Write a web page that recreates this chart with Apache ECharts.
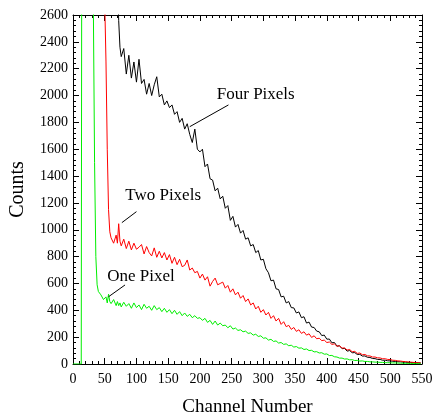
<!DOCTYPE html>
<html>
<head>
<meta charset="utf-8">
<script src="https://cdn.jsdelivr.net/npm/echarts@6/dist/echarts.min.js"></script>
<style>
html,body{margin:0;padding:0;background:#fff;}
#chart{width:435px;height:416px;}
</style>
</head>
<body>
<div id="chart"></div>
<script>
// Channel numbers (shared x values)
var channels = [
  0, 13, 14, 20, 26, 32, 34, 36, 38, 40,
  44, 48, 50, 52, 54, 56, 58, 60, 64, 68,
  70, 72, 74, 76, 80, 84, 88, 92, 96, 100,
  104, 108, 112, 116, 120, 124, 128, 132, 136, 140,
  144, 148, 152, 156, 160, 164, 168, 172, 176, 180,
  184, 188, 192, 196, 200, 204, 208, 212, 216, 220,
  224, 228, 232, 236, 240, 244, 248, 252, 256, 260,
  264, 268, 272, 276, 280, 284, 288, 292, 296, 300,
  304, 308, 312, 316, 320, 324, 328, 332, 336, 340,
  344, 348, 352, 356, 360, 364, 368, 372, 376, 380,
  384, 388, 392, 396, 400, 404, 408, 412, 416, 420,
  424, 428, 432, 436, 440, 444, 448, 452, 456, 460,
  464, 468, 472, 476, 480, 484, 488, 492, 496, 500,
  504, 508, 512, 516, 520, 524, 528, 532, 536, 540,
  544, 548
];

// Four Pixels (black)
var fourPixels = [
  null, null, 4000, 4000, 4000, 4000, 4000, 4000, 4000, 4000,
  4000, 4000, 4000, 4000, 4000, 4000, 4000, 4000, 4000, 4000,
  2900, 2560, 2360, 2290, 2350, 2160, 2300, 2130, 2250, 2100,
  2270, 2090, 2120, 2010, 2090, 2000, 2080, 2140, 1990, 2010,
  1930, 1960, 1910, 1930, 1860, 1880, 1800, 1830, 1750, 1790,
  1710, 1650, 1750, 1600, 1580, 1600, 1470, 1490, 1380, 1370,
  1290, 1310, 1230, 1250, 1160, 1180, 1070, 1100, 1020, 1040,
  975, 995, 930, 940, 880, 890, 830, 845, 775, 780,
  710, 680, 620, 625, 560, 555, 500, 505, 455, 465,
  420, 418, 380, 388, 345, 352, 305, 312, 275, 272,
  245, 240, 212, 215, 185, 186, 158, 160, 133, 136,
  114, 116, 96, 100, 84, 85, 71, 72, 59, 60,
  50, 49, 41, 40, 34, 34, 28, 28, 24, 23,
  20, 19, 17, 16, 14, 13, 12, 11, 10, 10,
  9, 8
];

// Two Pixels (red)
var twoPixels = [
  null, null, 4000, 4000, 4000, 4000, 4000, 4000, 4000, 4000,
  4000, 4000, 2700, 2250, 1600, 1150, 985, 940, 900, 960,
  900, 1045, 915, 880, 930, 860, 915, 850, 900, 855,
  870, 890, 820, 875, 830, 805, 865, 795, 840, 790,
  830, 775, 815, 750, 795, 740, 780, 725, 735, 775,
  700, 715, 680, 690, 640, 670, 625, 650, 580, 615,
  640, 590, 600, 610, 565, 585, 535, 560, 515, 535,
  490, 510, 465, 485, 440, 455, 410, 430, 385, 405,
  365, 385, 340, 360, 320, 340, 295, 315, 278, 288,
  258, 272, 243, 255, 228, 240, 215, 225, 198, 210,
  188, 192, 174, 178, 160, 164, 146, 150, 132, 136,
  118, 120, 104, 108, 91, 94, 79, 82, 69, 71,
  61, 60, 52, 52, 46, 45, 39, 39, 34, 33,
  28, 27, 23, 22, 19, 18, 15, 14, 12, 11,
  9, 8
];

// One Pixel (green)
var onePixel = [
  0, 0, 4000, 4000, 4000, 2700, 1500, 800, 590, 540,
  515, 480, 470, 500, 455, 520, 465, 450, 480, 435,
  465, 435, 455, 425, 460, 430, 450, 415, 455, 420,
  440, 405, 445, 415, 430, 400, 435, 405, 420, 390,
  415, 385, 405, 375, 400, 370, 390, 360, 380, 355,
  370, 345, 360, 340, 345, 325, 340, 310, 325, 295,
  320, 290, 305, 285, 290, 270, 285, 260, 268, 250,
  255, 240, 245, 228, 232, 215, 222, 205, 210, 192,
  195, 178, 184, 168, 172, 156, 160, 146, 150, 136,
  140, 126, 130, 118, 120, 108, 112, 100, 102, 90,
  92, 82, 84, 73, 75, 63, 64, 54, 52, 44,
  44, 37, 38, 31, 32, 26, 27, 22, 23, 19,
  19, 16, 16, 14, 14, 12, 12, 10, 10, 9,
  8, 8, 7, 6, 6, 5, 5, 4, 4, 3,
  3, 3
];

var xTicks = [0, 50, 100, 150, 200, 250, 300, 350, 400, 450, 500, 550];
var yTicks = [0, 200, 400, 600, 800, 1000, 1200, 1400, 1600, 1800, 2000, 2200, 2400, 2600];

// annotation anchors in data space
var annoLabels = ['Four Pixels', 'Two Pixels', 'One Pixel'];
var annoText = [[288, 2004], [142, 1252], [107, 648]];
var annoLineStart = [[245, 1930], [100, 1135], [82, 589]];
var annoLineEnd = [[184, 1768], [77, 1053], [56, 501]];

function pairs(vals) {
  var out = [];
  for (var i = 0; i < channels.length; i++) out.push([channels[i], vals[i] === null ? '-' : vals[i]]);
  return out;
}

var FONT = '"Liberation Serif", "Times New Roman", serif';
var chart = echarts.init(document.getElementById('chart'), null, {renderer: 'canvas'});

function axisCommon(show) {
  return {
    axisLine: {show: true, onZero: false, lineStyle: {color: '#000', width: 1}},
    axisTick: {show: true, inside: true, length: 6, lineStyle: {color: '#000'}},
    minorTick: {show: true, splitNumber: 5, length: 3, lineStyle: {color: '#000'}},
    splitLine: {show: false},
    axisLabel: {show: show, color: '#000', fontFamily: FONT, fontSize: 14,
      formatter: function (v) { return String(v); }}
  };
}

function annoSeries(idx) {
  return {
    type: 'line',
    data: [],
    silent: true,
    markLine: {
      silent: true,
      symbol: ['none', 'none'],
      animation: false,
      lineStyle: {color: '#000', width: 1, type: 'solid'},
      label: {show: false},
      data: [[{coord: annoLineStart[idx]}, {coord: annoLineEnd[idx]}]]
    },
    markPoint: {
      silent: true,
      symbolSize: 0,
      animation: false,
      label: {
        show: true, position: 'inside', color: '#000',
        fontFamily: FONT, fontSize: 17,
        formatter: annoLabels[idx]
      },
      data: [{coord: annoText[idx], name: annoLabels[idx]}]
    }
  };
}

var option = {
  animation: false,
  backgroundColor: '#fff',
  grid: {left: 73, right: 13, top: 15, bottom: 52, containLabel: false, outerBoundsMode: 'none'},
  xAxis: [
    Object.assign({
      type: 'value', min: 0, max: 550, interval: 50, position: 'bottom',
      name: 'Channel Number', nameLocation: 'middle', nameGap: 34,
      nameTextStyle: {color: '#000', fontFamily: FONT, fontSize: 19}
    }, axisCommon(true)),
    Object.assign({
      type: 'value', min: 0, max: 550, interval: 50, position: 'top'
    }, axisCommon(false))
  ],
  yAxis: [
    Object.assign({
      type: 'value', min: 0, max: 2600, interval: 200, position: 'left',
      name: 'Counts', nameLocation: 'middle', nameGap: 45,
      nameTextStyle: {color: '#000', fontFamily: FONT, fontSize: 20}
    }, axisCommon(true)),
    Object.assign({
      type: 'value', min: 0, max: 2600, interval: 200, position: 'right'
    }, axisCommon(false))
  ],
  series: [
    {name: 'Four Pixels', type: 'line', data: pairs(fourPixels), showSymbol: false, symbol: 'none',
     lineStyle: {color: '#000', width: 1}, clip: true},
    {name: 'Two Pixels', type: 'line', data: pairs(twoPixels), showSymbol: false, symbol: 'none',
     lineStyle: {color: '#ff0000', width: 1}, clip: true},
    {name: 'One Pixel', type: 'line', data: pairs(onePixel), showSymbol: false, symbol: 'none',
     lineStyle: {color: '#00ee00', width: 1}, clip: true},
    annoSeries(0), annoSeries(1), annoSeries(2)
  ]
};
option.xAxis[0].axisLabel.margin = 8;
option.yAxis[0].axisLabel.margin = 5;
chart.setOption(option);
</script>
</body>
</html>
